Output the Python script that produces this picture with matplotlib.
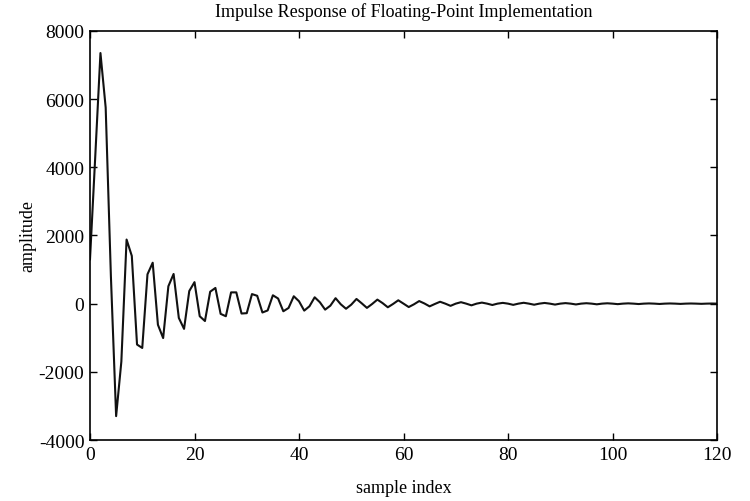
import matplotlib
matplotlib.use("Agg")
import matplotlib.pyplot as plt
import numpy as np

plt.rcParams['font.family'] = ['Liberation Serif', 'DejaVu Serif']
plt.rcParams['axes.unicode_minus'] = False

sample_index = list(range(0, 121))
amplitude = [
    1300, 4300, 7350, 5750, 800, -3300, -1700, 1880, 1400, -1200,
    -1300, 860, 1200, -620, -1010, 510, 870, -420, -740, 370,
    630, -370, -510, 350, 460, -300, -370, 330, 330, -290,
    -280, 280, 230, -260, -200, 245, 150, -224, -127, 216,
    70, -205, -78, 186, 40, -176, -60, 160, -20, -150,
    -30, 137, 10, -125, -10, 118, 15, -107, -10, 98,
    0, -100, -20, 75, 5, -80, -10, 55, 0, -65,
    0, 42, 0, -50, 0, 30, 0, -40, 0, 22,
    0, -36, 0, 25, 0, -32, 0, 20, 0, -28,
    0, 15, 0, -24, 0, 12, 0, -20, 0, 10,
    0, -15, 0, 8, 0, -12, 0, 6, 0, -10,
    0, 5, 0, -8, 0, 4, 0, -6, 0, 3,
    0,
]
x_ticks = [0, 20, 40, 60, 80, 100, 120]
y_ticks = [-4000, -2000, 0, 2000, 4000, 6000, 8000]

fig = plt.figure(figsize=(7.5, 5.02), dpi=100)
ax = fig.add_axes([0.12, 0.1215, 0.836, 0.815])
ax.plot(sample_index, amplitude, color='#111111', lw=1.5)
ax.set_xlim(0, 120)
ax.set_ylim(-4000, 8000)
ax.set_xticks(x_ticks)
ax.set_yticks(y_ticks)
ax.tick_params(direction='in', top=True, right=True, labelsize=14, length=5, width=1, pad=4)
for s in ax.spines.values():
    s.set_linewidth(1.2)
ax.set_title('Impulse Response of Floating-Point Implementation', fontsize=13, pad=10.5)
ax.set_xlabel('sample index', fontsize=13, labelpad=11.5)
ax.set_ylabel('amplitude', fontsize=13, labelpad=2)
fig.savefig('out.png', dpi=100)
